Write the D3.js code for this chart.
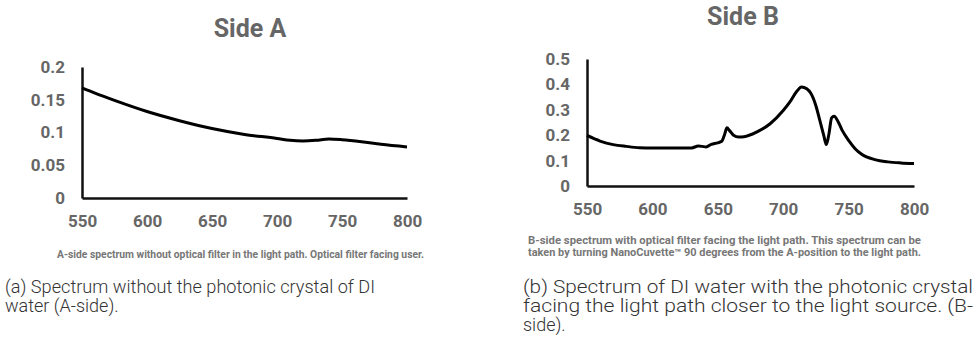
<!DOCTYPE html>
<html>
<head>
<meta charset="utf-8">
<script src="https://cdn.jsdelivr.net/npm/d3@7"></script>
<style>
  body { margin: 0; background: #fff; }
  text { font-family: Roboto, "Noto Sans", sans-serif; }
</style>
</head>
<body>
<div id="chart"></div>
<script>
// Side A spectrum (wavelength nm, absorbance)
var sideAWave = [550, 560, 575, 600, 625, 650, 675, 700, 710, 720, 730, 740, 750, 765, 780, 800];
var sideAVal  = [0.168, 0.160, 0.149, 0.132, 0.118, 0.106, 0.097, 0.091, 0.088, 0.087, 0.088, 0.090, 0.089, 0.086, 0.082, 0.078];

// Side B spectrum
var sideBWave = [550, 560, 570, 580, 590, 600, 615, 630, 635, 638, 641, 645, 650, 653, 655, 657, 659, 662, 666, 670, 680, 690, 700, 705, 710, 714, 718, 721, 725, 728, 731, 733, 735, 737, 739, 742, 745, 750, 755, 760, 770, 780, 790, 800];
var sideBVal  = [0.199, 0.177, 0.163, 0.156, 0.151, 0.150, 0.150, 0.150, 0.157, 0.156, 0.154, 0.164, 0.170, 0.176, 0.200, 0.229, 0.218, 0.200, 0.193, 0.194, 0.213, 0.245, 0.297, 0.330, 0.370, 0.390, 0.383, 0.366, 0.316, 0.258, 0.199, 0.163, 0.206, 0.268, 0.275, 0.253, 0.220, 0.180, 0.147, 0.125, 0.104, 0.095, 0.091, 0.089];

var xTicks = [550, 600, 650, 700, 750, 800];
var yTicksA = [0, 0.05, 0.1, 0.15, 0.2];
var yTicksB = [0, 0.1, 0.2, 0.3, 0.4, 0.5];

var svgWidth = 975;
var svgHeight = 347;

var svg = d3.select("#chart")
  .append("svg")
  .attr("width", svgWidth)
  .attr("height", svgHeight);

function drawPanel(opts) {
  var x = d3.scaleLinear().domain([550, 800]).range([opts.left, opts.right]);
  var y = d3.scaleLinear().domain([0, opts.yMax]).range([opts.bottom, opts.top]);

  // title
  svg.append("text")
    .attr("x", opts.titleX)
    .attr("y", opts.titleY)
    .attr("text-anchor", "middle")
    .attr("font-size", 25)
    .attr("font-weight", "bold")
    .attr("fill", "#666")
    .text(opts.title);

  // y axis
  var yAxis = svg.append("g")
    .attr("transform", `translate(${opts.left},0)`)
    .call(d3.axisLeft(y).tickValues(opts.yTicks).tickSize(0).tickPadding(17).tickFormat(d3.format("")));
  yAxis.select(".domain").attr("stroke", "#111").attr("stroke-width", 2.5);
  yAxis.selectAll("text")
    .attr("font-size", 17)
    .attr("font-weight", "bold")
    .attr("fill", "#666")
    .attr("font-family", "Roboto, sans-serif");

  // x axis
  var xAxis = svg.append("g")
    .attr("transform", `translate(0,${opts.bottom})`)
    .call(d3.axisBottom(x).tickValues(xTicks).tickSize(0).tickPadding(17));
  xAxis.select(".domain").attr("stroke", "#111").attr("stroke-width", 2.5);
  xAxis.selectAll("text")
    .attr("font-size", 17)
    .attr("font-weight", "bold")
    .attr("fill", "#666")
    .attr("font-family", "Roboto, sans-serif");

  // spectrum line
  var line = d3.line()
    .x(function(d, i) { return x(opts.wave[i]); })
    .y(function(d) { return y(d); })
    .curve(d3.curveMonotoneX);

  svg.append("path")
    .datum(opts.vals)
    .attr("d", line)
    .attr("fill", "none")
    .attr("stroke", "#000")
    .attr("stroke-width", 3)
    .attr("stroke-linejoin", "round");
}

drawPanel({
  title: "Side A", titleX: 250, titleY: 37,
  left: 82, right: 407, top: 67, bottom: 198, yMax: 0.2,
  yTicks: yTicksA,
  wave: sideAWave, vals: sideAVal
});

drawPanel({
  title: "Side B", titleX: 743, titleY: 25,
  left: 587, right: 914, top: 59, bottom: 186, yMax: 0.5,
  yTicks: yTicksB,
  wave: sideBWave, vals: sideBVal
});

// small captions under the charts
function note(txt, x0, y0, w) {
  svg.append("text")
    .attr("x", x0).attr("y", y0)
    .attr("font-size", 10.2).attr("font-weight", "bold").attr("fill", "#777")
    .attr("textLength", w).attr("lengthAdjust", "spacingAndGlyphs")
    .text(txt);
}
note("A-side spectrum without optical filter in the light path. Optical filter facing user.", 57, 258, 367);
note("B-side spectrum with optical filter facing  the light path. This spectrum can be", 528, 244, 393);
note("taken by turning NanoCuvette\u2122 90 degrees from the A-position to the light path.", 528, 256, 393);

// figure sub-captions
var capA = [
  { t: "(a) Spectrum without the photonic crystal of DI", w: 370 },
  { t: "water (A-side).", w: null }
];
var capB = [
  { t: "(b) Spectrum of DI water with the photonic crystal", w: 450 },
  { t: "facing the light path closer to the light source. (B-", w: 450 },
  { t: "side).", w: null }
];

function caption(lines, x0) {
  lines.forEach(function(l, i) {
    var t = svg.append("text")
      .attr("x", x0).attr("y", 293 + i * 19)
      .attr("font-size", 18).attr("font-weight", 300).attr("fill", "#333")
      .text(l.t);
    if (l.w) t.attr("textLength", l.w).attr("lengthAdjust", "spacingAndGlyphs");
  });
}
caption(capA, 5);
caption(capB, 523);
</script>
</body>
</html>
